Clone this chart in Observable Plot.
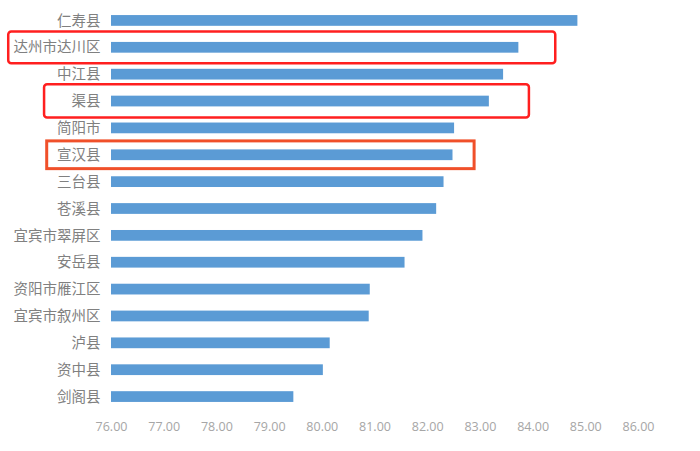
<!DOCTYPE html>
<html>
<head>
<meta charset="utf-8">
<script src="https://cdn.jsdelivr.net/npm/d3@7"></script>
<script src="https://cdn.jsdelivr.net/npm/@observablehq/plot@0.6"></script>
<style>
  html, body { margin: 0; padding: 0; background: #fff; }
  #chart svg { display: block; }
</style>
</head>
<body>
<div id="chart"></div>
<script>
const categories = ["仁寿县","达州市达川区","中江县","渠县","简阳市","宣汉县","三台县","苍溪县","宜宾市翠屏区","安岳县","资阳市雁江区","宜宾市叙州区","泸县","资中县","剑阁县"];
const values = [84.85, 83.73, 83.44, 83.17, 82.51, 82.48, 82.31, 82.17, 81.91, 81.57, 80.91, 80.89, 80.15, 80.02, 79.46];
const xTicks = [76, 77, 78, 79, 80, 81, 82, 83, 84, 85, 86];

// highlight annotations (categories and their box extents in data units)
const highlightCats = ["达州市达川区", "渠县", "宣汉县"];
const highlightStart = [74.05, 74.73, 74.78];
const highlightEnd = [84.43, 83.93, 82.89];

const data = categories.map((c, i) => ({cat: c, value: values[i]}));
const boxes = highlightCats.map((c, i) => ({cat: c, x1: highlightStart[i], x2: highlightEnd[i], k: i}));

const plot = Plot.plot({
  width: 700,
  height: 451,
  marginLeft: 111,
  marginRight: 62,
  marginTop: 7,
  marginBottom: 41,
  style: {background: "#fff", fontFamily: "'Noto Sans CJK SC', 'Noto Sans', sans-serif"},
  x: {domain: [76, 86], label: null},
  y: {domain: categories, paddingInner: 0.6, paddingOuter: 0.3, round: false, label: null},
  marks: [
    Plot.barX(data, {x1: 76, x2: "value", y: "cat", fill: "#5B9BD5"}),
    Plot.barX(boxes.filter(d => d.k === 0), {
      x1: "x1", x2: "x2", y: "cat", fill: "none",
      stroke: "#ff1f1f", strokeWidth: 2.5, rx: 3, insetTop: -10.5, insetBottom: -10.5
    }),
    Plot.barX(boxes.filter(d => d.k === 1), {
      x1: "x1", x2: "x2", y: "cat", fill: "none",
      stroke: "#ff1f1f", strokeWidth: 2.5, rx: 3, insetTop: -11.5, insetBottom: -11
    }),
    Plot.barX(boxes.filter(d => d.k === 2), {
      x1: "x1", x2: "x2", y: "cat", fill: "none",
      stroke: "#f0502a", strokeWidth: 3, insetTop: -8.5, insetBottom: -8.5
    }),
    Plot.axisX({ticks: xTicks, tickFormat: d => d.toFixed(2), tickSize: 0, tickPadding: 12, label: null,
      fontSize: 12.5, color: "#a6a6a6", fontFamily: "'Open Sans', 'Liberation Sans', sans-serif"}),
    Plot.axisY({tickSize: 0, tickPadding: 11, fontSize: 14.5, color: "#808080", label: null})
  ]
});
document.getElementById("chart").appendChild(plot);
</script>
</body>
</html>
